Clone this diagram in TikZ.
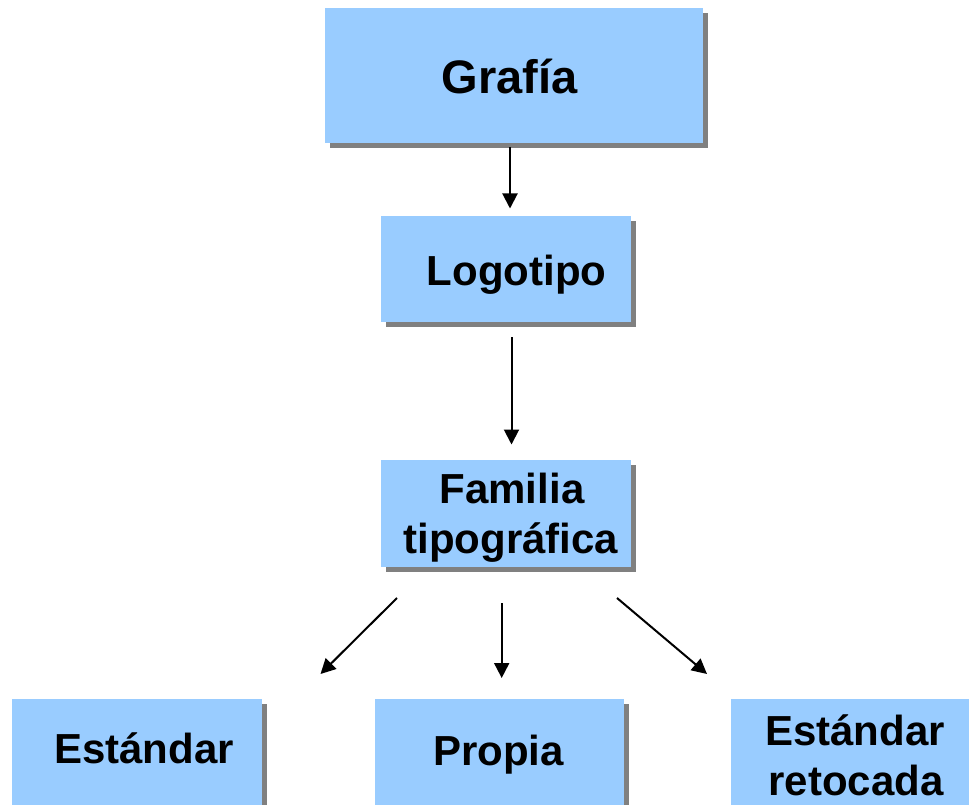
\documentclass[tikz,border=0pt]{standalone}
\usepackage{fontspec}
\setmainfont{Liberation Sans}
\usetikzlibrary{arrows.meta,shadows}
\definecolor{boxblue}{HTML}{99CCFF}
\definecolor{shadowgray}{HTML}{808080}
\begin{document}
\begin{tikzpicture}[x=1pt,y=-1pt,
  box/.style={rectangle, fill=boxblue, draw=none, inner sep=0pt, anchor=north west,
    drop shadow={shadow xshift=5pt, shadow yshift=-5pt, fill=shadowgray, opacity=1}},
  lbl/.style={font=\fontsize{42}{50}\selectfont\bfseries, anchor=base, inner sep=0pt},
  biglbl/.style={lbl, font=\fontsize{47}{56}\selectfont\bfseries},
  arr/.style={line width=2pt, -{Triangle[length=15pt,width=15pt]}}]
\useasboundingbox (0,0) rectangle (969,805);
\clip (0,0) rectangle (969,805);
% boxes
\node[box, minimum width=378pt, minimum height=135pt] (graf) at (325,8) {};
\node[box, minimum width=250pt, minimum height=106pt] (logo) at (381,216) {};
\node[box, minimum width=250pt, minimum height=107pt] (fam) at (381,460) {};
\node[box, minimum width=250pt, minimum height=130pt] (est) at (12,699) {};
\node[box, minimum width=249pt, minimum height=130pt] (prop) at (375,699) {};
\node[box, minimum width=260pt, minimum height=130pt] (ret) at (731,699) {};
% labels
\node[biglbl] (grafT) at (509.5,94) {Grafía};
\node[lbl] (logoT) at (516.5,285) {Logotipo};
\node[lbl] (famT1) at (512,503.3) {Familia};
\node[lbl] (famT2) at (510.7,553) {tipográfica};
\node[lbl] (estT) at (144,763) {Estándar};
\node[lbl] (propT) at (498.5,765) {Propia};
\node[lbl] (retT1) at (855,745) {Estándar};
\node[lbl] (retT2) at (856,795) {retocada};
% connector end points
\coordinate (a1s) at (510,147);   \coordinate (a1e) at (510,208.5);
\coordinate (a2s) at (511.5,337); \coordinate (a2e) at (511.5,444.5);
\coordinate (a3s) at (397,598);   \coordinate (a3e) at (320.5,674);
\coordinate (a4s) at (501.7,603); \coordinate (a4e) at (501.7,678);
\coordinate (a5s) at (617,598);   \coordinate (a5e) at (707,674);
\draw[arr] (a1s) -- (a1e);
\draw[arr] (a2s) -- (a2e);
\draw[arr] (a3s) -- (a3e);
\draw[arr] (a4s) -- (a4e);
\draw[arr] (a5s) -- (a5e);
\end{tikzpicture}
\end{document}
